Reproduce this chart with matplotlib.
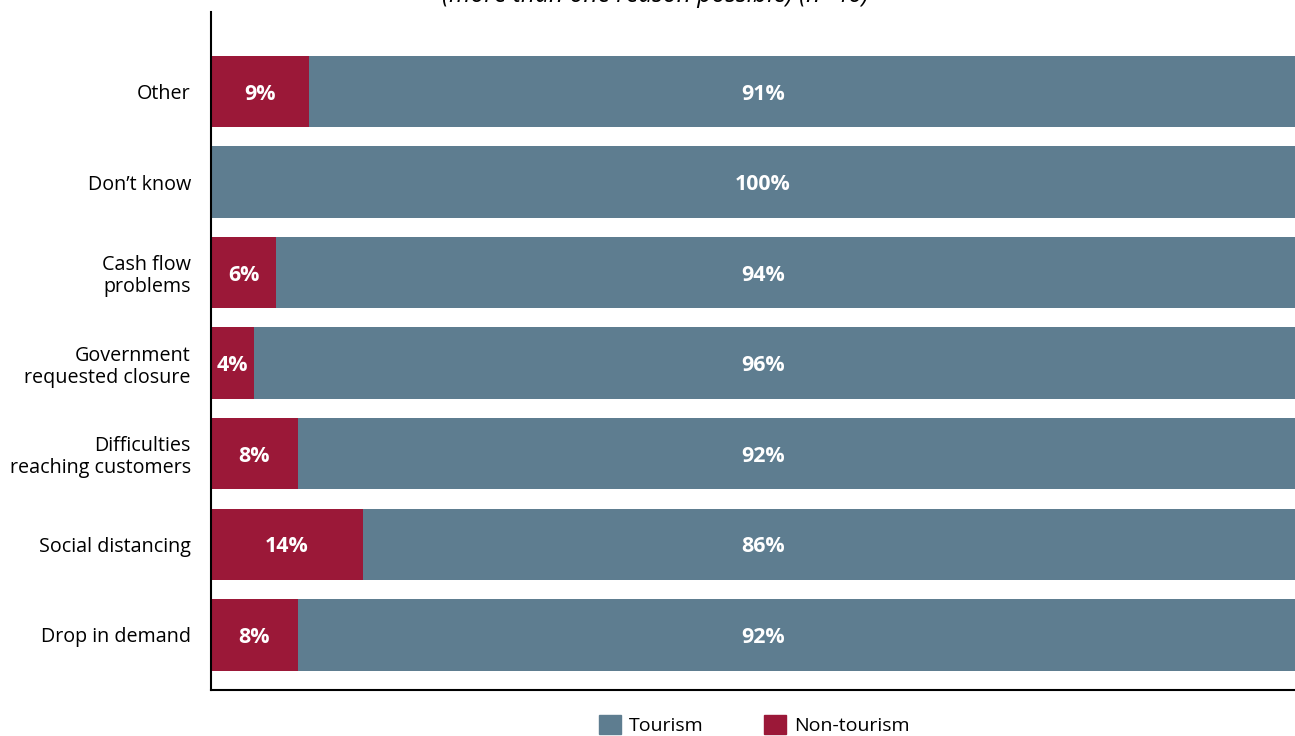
import matplotlib.pyplot as plt
from matplotlib.patches import Patch

plt.rcParams['font.family'] = ['Open Sans', 'DejaVu Sans']

categories = ["Drop in demand", "Social distancing", "Difficulties\nreaching customers",
              "Government\nrequested closure", "Cash flow\nproblems", "Don\u2019t know", "Other"]
non_tourism = [8, 14, 8, 4, 6, 0, 9]
tourism = [92, 86, 92, 96, 94, 100, 91]

TOURISM_C = '#5E7D90'
NON_C = '#9B1838'

fig = plt.figure(figsize=(12.95, 7.36), dpi=100)
ax = fig.add_axes([211 / 1295, 46 / 736, 1 - 211 / 1295, 678 / 736])

y = range(len(categories))
ax.barh(y, non_tourism, height=0.79, color=NON_C)
ax.barh(y, tourism, left=non_tourism, height=0.79, color=TOURISM_C)

# tourism labels share one column near the middle of the plot
for i, (n, t) in enumerate(zip(non_tourism, tourism)):
    if n > 0:
        ax.text(n / 2, i - 0.03, f"{n}%", ha='center', va='center', color='white',
                fontsize=15.4, fontweight='bold')
    ax.text(50.9, i - 0.03, f"{t}%", ha='center', va='center', color='white',
            fontsize=15.4, fontweight='bold')

ax.set_xlim(0, 100)
ax.set_ylim(-0.61, 6.88)
ax.set_yticks(list(y))
ax.set_yticklabels(categories, fontsize=14.2, linespacing=1.15)
ax.tick_params(axis='y', length=0, pad=14.5)
ax.set_xticks([])
for s in ('top', 'right'):
    ax.spines[s].set_visible(False)
ax.spines['left'].set_linewidth(1.5)
ax.spines['bottom'].set_linewidth(1.5)

# title sits mostly above the canvas edge
fig.text(655 / 1295, 1 - 2 / 736, "(more than one reason possible) (n=46)",
         ha='center', va='baseline', fontsize=17.7, style='italic')

handles = [Patch(color=TOURISM_C, label='Tourism'), Patch(color=NON_C, label='Non-tourism')]
fig.legend(handles=handles, loc='center', bbox_to_anchor=(754 / 1295, 11 / 736), ncol=2,
           frameon=False, fontsize=14, handlelength=1.13, handleheight=1.13,
           columnspacing=3.1, handletextpad=0.41)

fig.savefig('out.png', dpi=100)
